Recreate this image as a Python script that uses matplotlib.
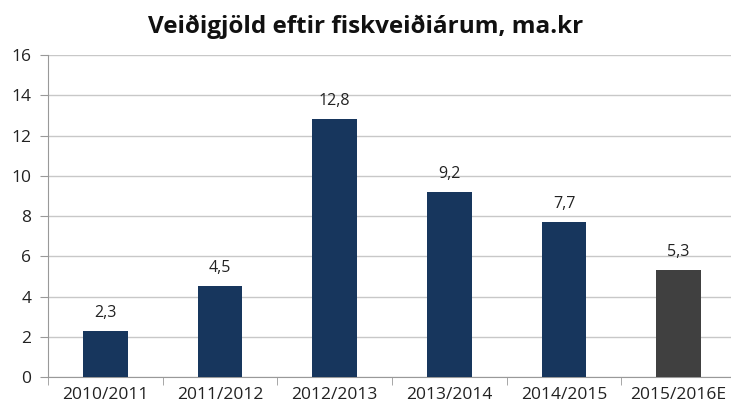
import matplotlib
matplotlib.use("Agg")
import matplotlib.pyplot as plt
import numpy as np

categories = ["2010/2011", "2011/2012", "2012/2013", "2013/2014", "2014/2015", "2015/2016E"]
values = [2.3, 4.5, 12.8, 9.2, 7.7, 5.3]
labels = ["2,3", "4,5", "12,8", "9,2", "7,7", "5,3"]
colors = ["#17365D", "#17365D", "#17365D", "#17365D", "#17365D", "#404040"]
yticks = [0, 2, 4, 6, 8, 10, 12, 14, 16]

plt.rcParams['font.family'] = ['Open Sans', 'DejaVu Sans']

fig = plt.figure(figsize=(7.31, 4.15), dpi=100)
W, H = 731, 415
ax = fig.add_axes([48 / W, (H - 377) / H, (736 - 48) / W, (377 - 55) / H])

x = np.arange(len(categories))
ax.bar(x, values, width=0.39, color=colors, zorder=3)
for xi, v, lab in zip(x, values, labels):
    ax.text(xi, v + 0.5, lab, ha='center', va='bottom', fontsize=11.5, color='#222222')

ax.set_xlim(-0.5, len(categories) - 0.5)
ax.set_ylim(0, 16)
ax.set_yticks(yticks)
ax.set_yticklabels([str(t) for t in yticks], fontsize=12.5, color='#222222')
ax.yaxis.grid(True, color='#C8C8C8', linewidth=1.0, zorder=0)
ax.set_axisbelow(True)

ax.set_xticks(x)
ax.set_xticklabels(categories, fontsize=12.5, color='#222222')
ax.tick_params(axis='x', length=0, pad=7)
ax.set_xticks(np.arange(-0.5, len(categories) - 0.5 + 0.01, 1), minor=True)
ax.tick_params(axis='x', which='minor', length=6, color='#999999')
ax.tick_params(axis='y', length=6, color='#999999', pad=6)

for s in ['top', 'right']:
    ax.spines[s].set_visible(False)
ax.spines['left'].set_color('#999999')
ax.spines['bottom'].set_color('#999999')

fig.text(0.5, 1 - 27 / H, "Veiðigjöld eftir fiskveiðiárum, ma.kr", ha='center', va='center',
         fontsize=17.5, fontweight='bold', color='#111111')

fig.savefig("out.png", dpi=100)
